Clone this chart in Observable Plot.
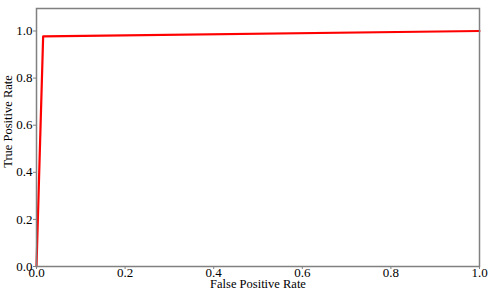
<!DOCTYPE html>
<html>
<head>
<meta charset="utf-8">
<script src="https://cdn.jsdelivr.net/npm/d3@7"></script>
<script src="https://cdn.jsdelivr.net/npm/@observablehq/plot@0.6"></script>
<style>
  html, body { margin: 0; padding: 0; background: #fff; }
  #chart svg { display: block; }
</style>
</head>
<body>
<div id="chart"></div>
<script>
const fpr = [0.0, 0.015, 1.0];
const tpr = [0.0, 0.977, 1.0];
const xTicks = [0.0, 0.2, 0.4, 0.6, 0.8, 1.0];
const yTicks = [0.0, 0.2, 0.4, 0.6, 0.8, 1.0];
const xLabel = "False Positive Rate";
const yLabel = "True Positive Rate";

const data = fpr.map((x, i) => ({x, y: tpr[i]}));
const font = "Liberation Serif";
const fmt = d3.format(".1f");

const chart = Plot.plot({
  width: 491,
  height: 292,
  marginLeft: 36,
  marginRight: 12,
  marginTop: 8,
  marginBottom: 26,
  style: {fontFamily: font, fontSize: "13px", color: "#000", background: "#fff"},
  x: {domain: [0, 1], label: null},
  y: {domain: [0, 1.0955], label: null},
  marks: [
    Plot.line(data, {x: "x", y: "y", stroke: "#ff0000", strokeWidth: 2.2}),
    Plot.frame({stroke: "#808080", strokeWidth: 1.5}),
    Plot.axisX({ticks: xTicks, tickFormat: () => "", tickSize: 3, stroke: "#808080"}),
    Plot.axisY({ticks: yTicks, tickFormat: () => "", tickSize: 3, stroke: "#808080"}),
    Plot.text(xTicks, {x: d => d, frameAnchor: "bottom", dy: 10, text: d => fmt(d), fontSize: 13, fontFamily: font, fill: "#000"}),
    Plot.text(yTicks, {y: d => d, frameAnchor: "left", dx: -4, textAnchor: "end", text: d => fmt(d), fontSize: 13, fontFamily: font, fill: "#000"}),
    Plot.text([xLabel], {frameAnchor: "bottom", dy: 21, text: d => d, fontSize: 12.5, fontFamily: font, fill: "#000"}),
    Plot.text([yLabel], {frameAnchor: "left", dx: -29, dy: -16, rotate: -90, textAnchor: "middle", text: d => d, fontSize: 12.5, fontFamily: font, fill: "#000"})
  ]
});
document.getElementById("chart").appendChild(chart);
</script>
</body>
</html>
